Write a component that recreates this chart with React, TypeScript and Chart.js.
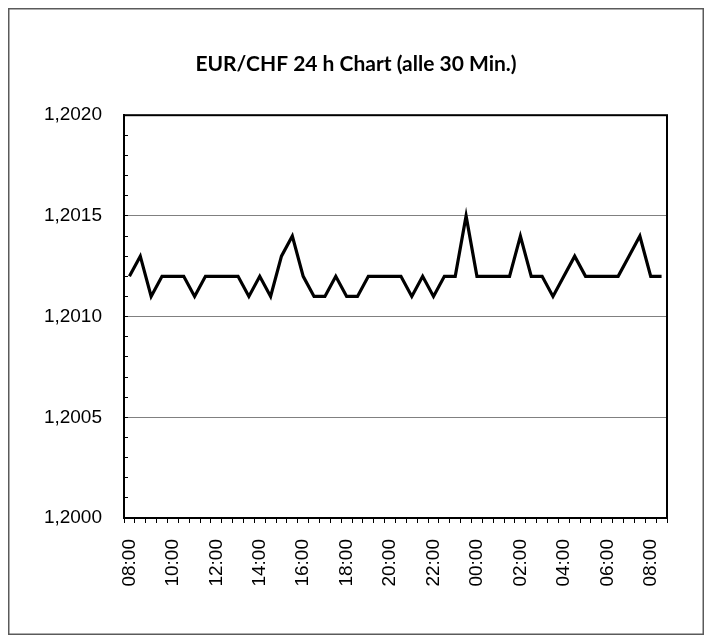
import React, { useEffect, useRef } from "react";
import { Chart, registerables } from "chart.js";

Chart.register(...registerables);

const TITLE = "EUR/CHF 24 h Chart (alle 30 Min.)";

const timeLabels: string[] = [
  "08:00", "08:30", "09:00", "09:30", "10:00", "10:30", "11:00", "11:30",
  "12:00", "12:30", "13:00", "13:30", "14:00", "14:30", "15:00", "15:30",
  "16:00", "16:30", "17:00", "17:30", "18:00", "18:30", "19:00", "19:30",
  "20:00", "20:30", "21:00", "21:30", "22:00", "22:30", "23:00", "23:30",
  "00:00", "00:30", "01:00", "01:30", "02:00", "02:30", "03:00", "03:30",
  "04:00", "04:30", "05:00", "05:30", "06:00", "06:30", "07:00", "07:30",
  "08:00", "08:30",
];

const rates: number[] = [
  1.2012, 1.2013, 1.2011, 1.2012, 1.2012, 1.2012, 1.2011, 1.2012,
  1.2012, 1.2012, 1.2012, 1.2011, 1.2012, 1.2011, 1.2013, 1.2014,
  1.2012, 1.2011, 1.2011, 1.2012, 1.2011, 1.2011, 1.2012, 1.2012,
  1.2012, 1.2012, 1.2011, 1.2012, 1.2011, 1.2012, 1.2012, 1.2015,
  1.2012, 1.2012, 1.2012, 1.2012, 1.2014, 1.2012, 1.2012, 1.2011,
  1.2012, 1.2013, 1.2012, 1.2012, 1.2012, 1.2012, 1.2013, 1.2014,
  1.2012, 1.2012,
];

const Y_MIN = 1.2;
const Y_MAX = 1.202;
const Y_MINOR_STEP = 0.0001;
const LABEL_EVERY = 4;

const isMajor = (v: number) => Math.round(v * 10000) % 5 === 0;

const framePlugin = {
  id: "frames",
  beforeDraw(chart: any) {
    const { ctx, width, height } = chart;
    ctx.save();
    ctx.fillStyle = "#ffffff";
    ctx.fillRect(0, 0, width, height);
    ctx.strokeStyle = "#5a5a5a";
    ctx.lineWidth = 1.5;
    ctx.strokeRect(0.75, 0.75, width - 1.5, height - 1.5);
    ctx.restore();
  },
  afterDraw(chart: any) {
    const { ctx, chartArea } = chart;
    ctx.save();
    ctx.strokeStyle = "#000000";
    ctx.lineWidth = 2;
    ctx.strokeRect(chartArea.left, chartArea.top, chartArea.right - chartArea.left, chartArea.bottom - chartArea.top);
    ctx.restore();
  },
};

export default function App() {
  const ref = useRef<HTMLCanvasElement | null>(null);

  useEffect(() => {
    if (!ref.current) return;
    const chart = new Chart(ref.current, {
      type: "line",
      data: {
        labels: timeLabels,
        datasets: [
          {
            data: rates,
            borderColor: "#000000",
            borderWidth: 3.2,
            pointRadius: 0,
            tension: 0,
            fill: false,
            yAxisID: "y",
          },
        ],
      },
      plugins: [framePlugin],
      options: {
        animation: false,
        responsive: false,
        devicePixelRatio: 1,
        layout: { padding: { left: 0, right: 0, top: 0, bottom: 0 } },
        plugins: {
          legend: { display: false },
          tooltip: { enabled: false },
          title: {
            display: true,
            text: TITLE,
            color: "#000000",
            font: { family: "Lato", size: 21, weight: "bold" },
            padding: { top: 44, bottom: 38 },
          },
        },
        scales: {
          x: {
            type: "category",
            offset: true,
            grid: {
              offset: true,
              drawOnChartArea: false,
              drawTicks: true,
              tickLength: 5,
              tickColor: "#000000",
              tickWidth: 1,
            },
            border: { display: true, color: "#000000", width: 2 },
            ticks: {
              autoSkip: false,
              minRotation: 90,
              maxRotation: 90,
              padding: 16,
              color: "#000000",
              font: { family: "Liberation Sans", size: 19 },
              callback: (_v: any, i: number) => (i % LABEL_EVERY === 0 ? timeLabels[i] : ""),
            },
            afterFit: (s: any) => {
              s.height = 117;
            },
          },
          y: {
            type: "linear",
            position: "left",
            min: Y_MIN,
            max: Y_MAX,
            grid: {
              color: (c: any) => (c.tick && isMajor(c.tick.value) ? "#808080" : "rgba(0,0,0,0)"),
              lineWidth: 1,
              drawTicks: true,
              tickLength: -4,
              tickColor: "#000000",
              tickWidth: 1,
            },
            border: { display: true, color: "#000000", width: 2 },
            ticks: {
              autoSkip: false,
              stepSize: Y_MINOR_STEP,
              padding: 26,
              color: "#000000",
              font: { family: "Liberation Sans", size: 19 },
              callback: (v: any) => (isMajor(Number(v)) ? Number(v).toFixed(4).replace(".", ",") : ""),
            },
            afterFit: (s: any) => {
              s.width = 116;
            },
          },
          yRight: {
            type: "linear",
            position: "right",
            display: true,
            grid: { display: false, drawTicks: false },
            border: { display: false },
            ticks: { display: false },
            afterFit: (s: any) => {
              s.width = 37;
            },
          },
        },
      },
    } as any);
    return () => chart.destroy();
  }, []);

  return (
    <div style={{ width: 696, height: 627 }}>
      <canvas ref={ref} width={696} height={627} style={{ display: "block" }} />
    </div>
  );
}
